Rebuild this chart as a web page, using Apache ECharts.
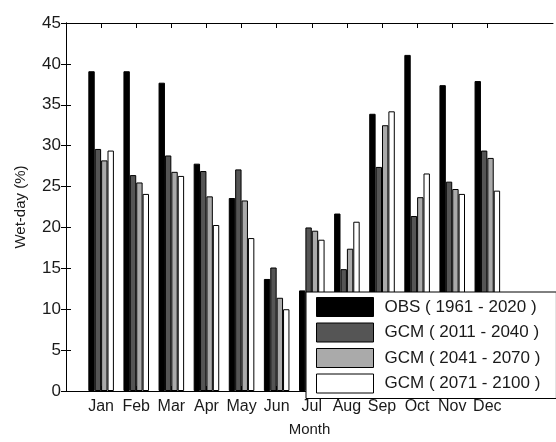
<!DOCTYPE html>
<html>
<head>
<meta charset="utf-8">
<script src="https://cdn.jsdelivr.net/npm/echarts@6/dist/echarts.min.js"></script>
<style>
html,body{margin:0;padding:0;background:#fff;}
#c{width:556px;height:442px;}
</style>
</head>
<body>
<div id="c"></div>
<script>
const months = ['Jan','Feb','Mar','Apr','May','Jun','Jul','Aug','Sep','Oct','Nov','Dec'];
const seriesNames = ['OBS ( 1961 - 2020 )','GCM ( 2011 - 2040 )','GCM ( 2041 - 2070 )','GCM ( 2071 - 2100 )'];
const obs     = [39.1, 39.1, 37.7, 27.8, 23.6, 13.7, 12.3, 21.7, 33.9, 41.1, 37.4, 37.9];
const gcm2011 = [29.6, 26.4, 28.8, 26.9, 27.1, 15.1, 20.0, 14.9, 27.4, 21.4, 25.6, 29.4];
const gcm2041 = [28.2, 25.5, 26.8, 23.8, 23.3, 11.4, 19.6, 17.4, 32.5, 23.7, 24.7, 28.5];
const gcm2071 = [29.4, 24.1, 26.3, 20.3, 18.7, 10.0, 18.5, 20.7, 34.2, 26.6, 24.1, 24.5];
const yTicks = [0,5,10,15,20,25,30,35,40,45];

const colors = ['#000000','#555555','#aaaaaa','#ffffff'];
const allData = [obs, gcm2011, gcm2041, gcm2071];
const monthPos = months.map((m,i)=>i+1);

const chart = echarts.init(document.getElementById('c'), null, {renderer:'canvas'});
const font = 'Liberation Sans, Arial, sans-serif';
const series = allData.map((arr, k) => ({
  name: seriesNames[k],
  type: 'bar',
  xAxisIndex: 0,
  yAxisIndex: 0,
  data: arr.map((v,i)=>[monthPos[i], v]),
  barWidth: '18.2%',
  barGap: '0%',
  itemStyle: {color: colors[k], borderColor:'#000', borderWidth:1},
  emphasis: {disabled:true}
}));

chart.setOption({
  animation: false,
  backgroundColor: '#fff',
  grid: {left: 66, right: 3, top: 23, bottom: 42, containLabel: false},
  legend: {
    orient: 'vertical',
    left: 306, top: 292,
    data: seriesNames,
    icon: 'rect',
    itemWidth: 57, itemHeight: 19, itemGap: 5.5,
    padding: [5, 16, 5, 10],
    backgroundColor: '#fff',
    borderColor: '#000', borderWidth: 1,
    itemStyle: {borderColor:'#000', borderWidth:1},
    textStyle: {fontFamily: font, fontSize: 17, color:'#1a1a1a', lineHeight: 19, padding:[0,0,0,6]},
    selectedMode: false
  },
  xAxis: [{
    type: 'value', min: 0, max: 13.87, interval: 1, position: 'bottom',
    name: 'Month', nameLocation: 'middle', nameGap: 31,
    nameTextStyle: {fontFamily: font, fontSize: 15, color:'#1a1a1a'},
    axisLine: {show:true, onZero:false, lineStyle:{color:'#000', width:1}},
    axisTick: {show:true, inside:true, length:5, customValues: monthPos, lineStyle:{color:'#000'}},
    axisLabel: {show:true, customValues: monthPos, margin: 8, fontFamily: font, fontSize: 16, color:'#1a1a1a',
      formatter: v => months[Math.round(v)-1] || ''},
    splitLine: {show:false}
  },{
    type: 'value', min: 0, max: 13.87, interval: 1, position: 'top',
    axisLine: {show:true, onZero:false, lineStyle:{color:'#000', width:1}},
    axisTick: {show:true, inside:true, length:5, customValues: monthPos, lineStyle:{color:'#000'}},
    axisLabel: {show:false},
    splitLine: {show:false}
  }],
  yAxis: [{
    type: 'value', min: 0, max: 45, interval: 5, position: 'left',
    name: 'Wet-day (%)', nameLocation: 'middle', nameGap: 38, nameRotate: 90,
    nameTextStyle: {fontFamily: font, fontSize: 15, color:'#1a1a1a'},
    axisLine: {show:true, lineStyle:{color:'#000', width:1}},
    axisTick: {show:true, inside:true, length:5, lineStyle:{color:'#000'}},
    axisLabel: {show:true, margin: 5, fontFamily: font, fontSize: 17, color:'#1a1a1a',
      customValues: yTicks},
    splitLine: {show:false}
  },{
    type: 'value', min: 0, max: 45, interval: 5, position: 'right',
    axisLine: {show:true, lineStyle:{color:'#000', width:1}},
    axisTick: {show:true, inside:true, length:5, lineStyle:{color:'#000'}},
    axisLabel: {show:false},
    splitLine: {show:false}
  }],
  series: series
});
</script>
</body>
</html>
